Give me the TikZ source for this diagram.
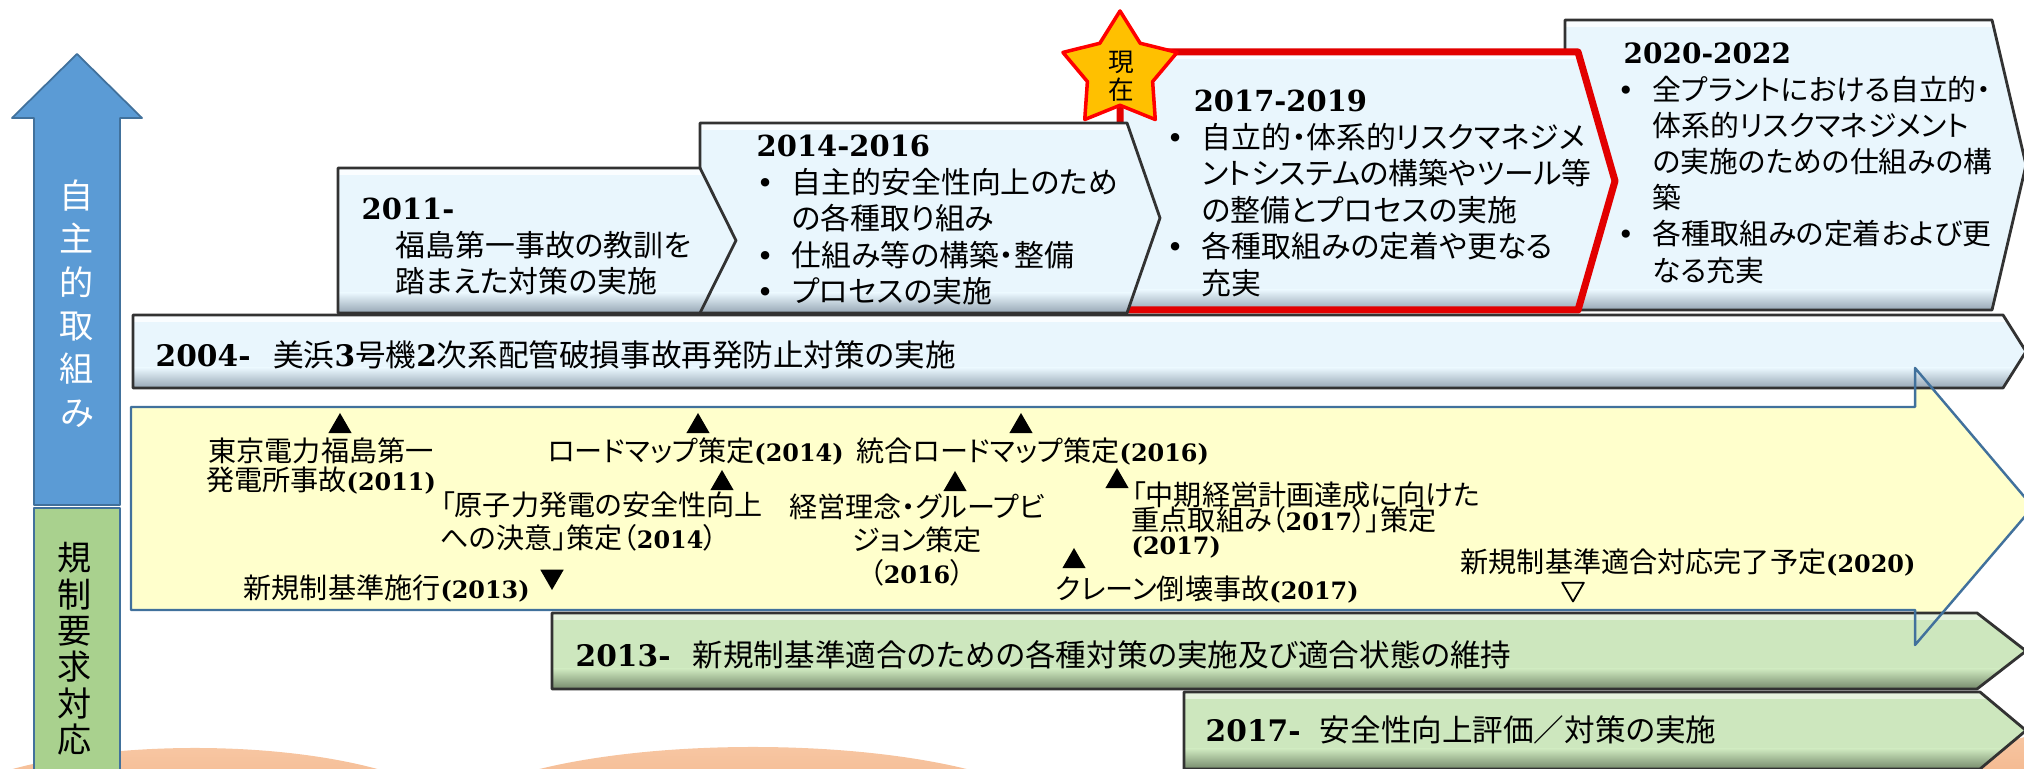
\documentclass[tikz,border=0pt]{standalone}
\usepackage{fontspec}
\setmainfont{Noto Sans CJK JP}[RawFeature=+palt]
\newfontfamily\yrfont{DejaVu Serif}[Scale=0.97]
\newfontfamily\ysfont{DejaVu Serif}[Scale=0.85]
\usetikzlibrary{shapes.geometric}

\definecolor{arrowblue}{RGB}{91,155,213}
\definecolor{edgeblue}{RGB}{65,113,156}
\definecolor{regreen}{RGB}{169,209,142}
\definecolor{bandyellow}{RGB}{255,255,204}
\definecolor{boxtop}{RGB}{250,253,255}
\definecolor{boxmid}{RGB}{233,246,253}
\definecolor{boxbot}{RGB}{150,166,180}
\definecolor{bartop}{RGB}{230,243,222}
\definecolor{barmid}{RGB}{205,231,190}
\definecolor{barbot}{RGB}{118,138,108}
\definecolor{edgegray}{RGB}{50,50,50}
\definecolor{nowred}{RGB}{226,0,0}
\definecolor{stargold}{RGB}{255,192,0}
\definecolor{blobtop}{RGB}{247,198,162}
\definecolor{blobbot}{RGB}{238,152,98}

\newcommand\yr[1]{{\yrfont\bfseries #1}}
\newcommand\ys[1]{{\ysfont\bfseries #1}}
\newcommand\bul{\makebox[10pt][l]{\yrfont\textbullet}}
\newcommand\ind{\hspace*{10pt}}

\tikzset{
	bevel/.style n args={3}{fill=#2, path picture={
		\fill[#1] (path picture bounding box.north west) rectangle ([yshift=-0.07cm]path picture bounding box.north east);
		\shade[top color=#2, bottom color=#3] ([yshift=0.2cm]path picture bounding box.south west) rectangle (path picture bounding box.south east);}},
	lightbox/.style={bevel={boxtop}{boxmid}{boxbot}, draw=edgegray, line width=0.8pt},
	nowbox/.style={bevel={boxtop}{boxmid}{boxbot}, draw=nowred, line width=2pt},
	greenbar/.style={bevel={bartop}{barmid}{barbot}, draw=edgegray, line width=0.8pt},
	boxtext/.style={anchor=north west, inner sep=0pt, align=left, font=\fontsize{8.5}{10.4}\selectfont},
	bartext/.style={anchor=west, inner sep=0pt, font=\fontsize{8.7}{10}\selectfont},
	event/.style={inner sep=0pt, font={\fontsize{8}{#1}\selectfont\lineskiplimit=-\maxdimen}},
	event/.default=9.4pt,
	mkup/.style={regular polygon, regular polygon sides=3, fill=black, inner sep=0pt, minimum size=0.27cm},
	mkdown/.style={mkup, shape border rotate=180},
	mkhollow/.style={regular polygon, regular polygon sides=3, shape border rotate=180, draw=black, line width=0.5pt, inner sep=0pt, minimum size=0.25cm},
	blob/.style={top color=blobtop, bottom color=blobbot},
}

\begin{document}
\begin{tikzpicture}[scale=1, font=\fontsize{8}{9.4}\selectfont, line join=round, line cap=round]
	\useasboundingbox (0,0) rectangle (20.24,7.69);
	\clip (0,0) rectangle (20.24,7.69);
	% background
	\shade[blob] (1.95,-0.59) ellipse (2.7cm and 0.8cm);
	\shade[blob] (7.53,-0.58) ellipse (3.1cm and 0.8cm);
	\shade[blob] (20.5,-0.4) ellipse (0.9cm and 0.75cm);
	% left column
	\draw[fill=arrowblue, draw=edgeblue, line width=0.5pt] (0.34,2.64) -- (0.34,6.51) -- (0.12,6.51) -- (0.77,7.15) -- (1.42,6.51) -- (1.20,6.51) -- (1.20,2.64) -- cycle;
	\draw[fill=regreen, draw=edgeblue, line width=0.5pt] (0.34,-0.1) rectangle (1.20,2.61);
	\node[text=white, align=center, inner sep=0pt, font=\fontsize{9.7}{12.35}\selectfont] (self) at (0.77,4.655) {自\\主\\的\\取\\組\\み};
	\node[align=center, inner sep=0pt, font=\fontsize{9.7}{10.36}\selectfont] (rule) at (0.75,1.20) {規\\制\\要\\求\\対\\応};
	% band
	\path
	(1.31,3.62) coordinate (b1)
	(19.15,3.62) coordinate (b2)
	(19.15,4.01) coordinate (b3)
	(20.33,2.62) coordinate (b4)
	(19.15,1.24) coordinate (b5)
	(19.15,1.59) coordinate (b6)
	(1.31,1.59) coordinate (b7)
		;
	\fill[bandyellow] (b1) -- (b2) -- (b3) -- (b4) -- (b5) -- (b6) -- (b7) -- cycle;
	% stages
	\draw[lightbox] (15.65,4.59) -- (15.65,7.49) -- (19.92,7.49) -- (20.26,6.04) -- (19.92,4.59) -- cycle;
	\draw[nowbox] (11.20,4.59) -- (11.20,7.17) -- (15.78,7.17) -- (16.15,5.88) -- (15.78,4.59) -- cycle;
	\draw[lightbox] (7.00,4.56) -- (7.00,6.46) -- (11.27,6.46) -- (11.60,5.51) -- (11.27,4.56) -- cycle;
	\draw[lightbox] (3.38,4.56) -- (3.38,6.01) -- (7.00,6.01) -- (7.36,5.285) -- (7.00,4.56) -- cycle;
	\draw[lightbox] (1.33,3.81) -- (1.33,4.54) -- (20.03,4.54) -- (20.26,4.175) -- (20.03,3.81) -- cycle;
	\draw[greenbar] (5.52,0.80) -- (5.52,1.56) -- (19.77,1.56) -- (20.26,1.18) -- (19.77,0.80) -- cycle;
	\draw[greenbar] (11.84,0.0) -- (11.84,0.77) -- (19.80,0.77) -- (20.26,0.385) -- (19.80,0.0) -- cycle;
	\draw[edgeblue, line width=0.7pt] (b1) -- (b2) -- (b3) -- (b4) -- (b5) -- (b6) -- (b7) -- cycle;
	% now
	\node[star, star points=5, star point ratio=1.75, minimum size=1.2cm, inner sep=0pt, fill=stargold, draw=red, line width=1pt] (now) at (11.20,6.98) {};
	\node[align=center, inner sep=0pt, font=\fontsize{7.3}{8}\selectfont] (nowtxt) at (11.21,6.93) {現\\在};
	% stage texts
	\node[boxtext] (t2011) at (3.61,5.715) {\yr{2011-}\\\hspace*{9.7pt}福島第一事故の教訓を\\\hspace*{9.7pt}踏まえた対策の実施};
	\node[boxtext] (t2014) at (7.56,6.345) {\yr{2014-2016}\\\bul 自主的安全性向上のため\\\ind の各種取り組み\\\bul 仕組み等の構築・整備\\\bul プロセスの実施};
	\node[boxtext] (t2017) at (11.66,6.795) {\hspace*{7.7pt}\yr{2017-2019}\\\bul 自立的・体系的リスクマネジメ\\\ind ントシステムの構築やツール等\\\ind の整備とプロセスの実施\\\bul 各種取組みの定着や更なる\\\ind 充実};
	\node[boxtext, font=\fontsize{8.2}{10.3}\selectfont] (t2020) at (16.17,7.265) {\hspace*{1.7pt}\yr{2020-2022}\\\bul 全プラントにおける自立的・\\\ind 体系的リスクマネジメント\\\ind の実施のための仕組みの構\\\ind 築\\\bul 各種取組みの定着および更\\\ind なる充実};
	\node[bartext] (t2004) at (1.55,4.14) {\yr{2004-}\hspace{6.5pt}美浜\yr{3}号機\yr{2}次系配管破損事故再発防止対策の実施};
	\node[bartext] (t2013) at (5.75,1.14) {\yr{2013-}\hspace{6.3pt}新規制基準適合のための各種対策の実施及び適合状態の維持};
	\node[bartext] (t2017b) at (12.05,0.39) {\yr{2017-}\hspace{5.5pt}安全性向上評価／対策の実施};
	% events
	\node[mkup] (m1) at (3.40,3.425) {};
	\node[event=8pt, align=center] (e1) at (3.21,3.03) {東京電力福島第一\\発電所事故\ys{(2011)}};
	\node[mkup] (m2) at (6.98,3.425) {};
	\node[event, anchor=west] (e2) at (5.47,3.17) {ロードマップ策定\ys{(2014)}};
	\node[mkup] (m3) at (7.22,2.855) {};
	\node[event, anchor=west, align=left] (e3) at (4.40,2.475) {「原子力発電の安全性向上\\への決意」策定（\ys{2014}）};
	\node[mkup] (m4) at (10.21,3.425) {};
	\node[event, anchor=west] (e4) at (8.56,3.17) {統合ロードマップ策定\ys{(2016)}};
	\node[mkup] (m5) at (9.55,2.845) {};
	\node[event, align=center] (e5) at (9.17,2.29) {経営理念・グループビ\\ジョン策定\\（\ys{2016}）};
	\node[mkup] (m6) at (11.17,2.875) {};
	\node[event=7.1pt, anchor=west, align=left] (e6) at (11.31,2.49) {「中期経営計画達成に向けた\\重点取組み（\ys{2017}）」策定\\\ys{(2017)}};
	\node[mkup] (m7) at (10.74,2.075) {};
	\node[event, anchor=west] (e7) at (10.55,1.79) {クレーン倒壊事故\ys{(2017)}};
	\node[mkdown] (m8) at (5.52,1.925) {};
	\node[event, anchor=west] (e8) at (2.43,1.81) {新規制基準施行\ys{(2013)}};
	\node[mkhollow] (m9) at (15.73,1.80) {};
	\node[event, anchor=west] (e9) at (14.60,2.07) {新規制基準適合対応完了予定\ys{(2020)}};
\end{tikzpicture}
\end{document}
